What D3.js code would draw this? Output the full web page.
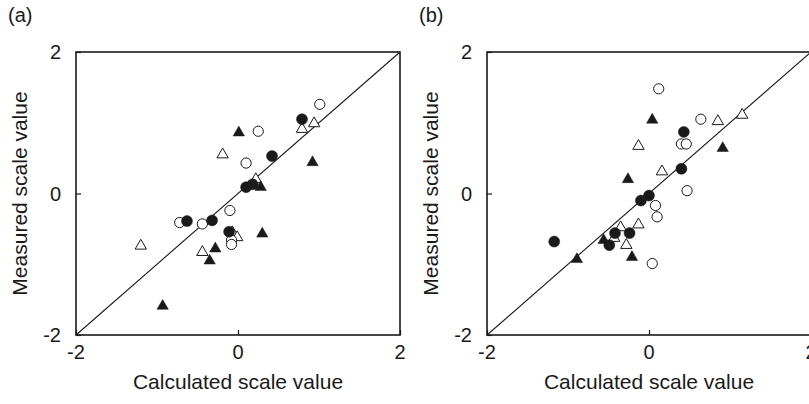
<!DOCTYPE html>
<html>
<head>
<meta charset="utf-8">
<script src="https://cdn.jsdelivr.net/npm/d3@7"></script>
<style>
body { margin: 0; background: #fff; }
svg { display: block; font-family: "Liberation Sans", Arial, sans-serif; }
</style>
</head>
<body>
<svg width="809" height="404"></svg>
<script>
// axis ticks and labels
var tickValues = [-2, 0, 2];
var panelNames = ["(a)", "(b)"];
var xTitle = "Calculated scale value";
var yTitle = "Measured scale value";

// panel (a): [calculated, measured]
var aFilledCircle = [[0.79, 1.05], [0.42, 0.53], [0.10, 0.09], [0.18, 0.13], [-0.63, -0.39], [-0.32, -0.38], [-0.11, -0.54]];
var aOpenCircle = [[1.01, 1.26], [0.25, 0.88], [0.10, 0.43], [-0.10, -0.24], [-0.72, -0.41], [-0.44, -0.43], [-0.08, -0.66], [-0.08, -0.72]];
var aFilledTri = [[0.01, 0.86], [0.92, 0.44], [0.28, 0.09], [0.30, -0.57], [-0.28, -0.78], [-0.35, -0.95], [-0.93, -1.59]];
var aOpenTri = [[0.94, 0.99], [0.79, 0.91], [-0.19, 0.55], [0.22, 0.20], [-0.07, -0.55], [-0.01, -0.62], [-0.44, -0.83], [-1.20, -0.74]];

// panel (b)
var bFilledCircle = [[0.43, 0.87], [0.40, 0.35], [0.00, -0.03], [-0.10, -0.10], [-0.24, -0.56], [-0.42, -0.56], [-0.49, -0.73], [-1.17, -0.68]];
var bOpenCircle = [[0.12, 1.48], [0.64, 1.05], [0.40, 0.70], [0.46, 0.70], [0.47, 0.04], [0.08, -0.17], [0.10, -0.33], [0.04, -0.99]];
var bFilledTri = [[0.04, 1.04], [0.91, 0.64], [-0.26, 0.20], [-0.21, -0.90], [-0.89, -0.93], [-0.56, -0.66]];
var bOpenTri = [[1.15, 1.11], [0.85, 1.02], [-0.13, 0.67], [0.16, 0.31], [-0.13, -0.44], [-0.35, -0.48], [-0.43, -0.63], [-0.28, -0.73]];

var svg = d3.select("svg");
var ink = "#1a1a1a";

var panels = [
    { left: 76, name: panelNames[0], series: [aOpenTri, aFilledTri, aOpenCircle, aFilledCircle] },
    { left: 487, name: panelNames[1], series: [bOpenTri, bFilledTri, bOpenCircle, bFilledCircle] }
];
var plotTop = 52, w = 324, h = 283;
// symbol, filled? in the same order as the series lists above
var styles = [
    { type: d3.symbolTriangle, size: 56, fill: "#fff" },
    { type: d3.symbolTriangle, size: 56, fill: ink },
    { type: d3.symbolCircle, size: 82, fill: "#fff" },
    { type: d3.symbolCircle, size: 95, fill: ink }
];

panels.forEach(function (p) {
    var x = d3.scaleLinear().domain([-2, 2]).range([p.left, p.left + w]);
    var y = d3.scaleLinear().domain([-2, 2]).range([plotTop + h, plotTop]);
    var g = svg.append("g");

    // 1:1 line
    g.append("line")
        .attr("x1", x(-2)).attr("y1", y(-2))
        .attr("x2", x(2)).attr("y2", y(2))
        .attr("stroke", ink)
        .attr("stroke-width", 1.1);

    styles.forEach(function (s, i) {
        g.append("g").selectAll("path")
            .data(p.series[i])
            .enter().append("path")
            .attr("transform", function (d) { return "translate(" + x(d[0]) + "," + y(d[1]) + ")"; })
            .attr("d", d3.symbol().type(s.type).size(s.size))
            .attr("fill", s.fill)
            .attr("stroke", ink)
            .attr("stroke-width", s.fill == ink ? 0.5 : 1);
    });

    // frame
    g.append("rect")
        .attr("x", x(-2)).attr("y", y(2))
        .attr("width", w).attr("height", h)
        .attr("fill", "none")
        .attr("stroke", ink)
        .attr("stroke-width", 1.6);

    // inward ticks
    g.append("g")
        .attr("transform", "translate(0," + y(-2) + ")")
        .call(d3.axisBottom(x).tickValues(tickValues).tickSize(-5).tickFormat(""))
        .call(function (a) { a.select(".domain").remove(); a.selectAll("line").attr("stroke", ink).attr("stroke-width", 1.2); });
    g.append("g")
        .attr("transform", "translate(" + x(-2) + ",0)")
        .call(d3.axisLeft(y).tickValues(tickValues).tickSize(-5).tickFormat(""))
        .call(function (a) { a.select(".domain").remove(); a.selectAll("line").attr("stroke", ink).attr("stroke-width", 1.2); });

    // tick labels
    g.selectAll(".xlab")
        .data(tickValues)
        .enter().append("text")
        .attr("x", function (d) { return x(d); })
        .attr("y", 359)
        .attr("text-anchor", "middle")
        .attr("font-size", 20)
        .attr("fill", ink)
        .text(function (d) { return d; });
    g.selectAll(".ylab")
        .data(tickValues)
        .enter().append("text")
        .attr("x", p.left - 15)
        .attr("y", function (d) { return y(d); })
        .attr("dy", "0.36em")
        .attr("text-anchor", "end")
        .attr("font-size", 20)
        .attr("fill", ink)
        .text(function (d) { return d; });

    // titles
    g.append("text")
        .attr("x", x(0))
        .attr("y", 389)
        .attr("text-anchor", "middle")
        .attr("font-size", 21)
        .attr("fill", ink)
        .text(xTitle);
    g.append("text")
        .attr("transform", "translate(" + (p.left - 49) + "," + (plotTop + h / 2) + ") rotate(-90)")
        .attr("text-anchor", "middle")
        .attr("font-size", 21)
        .attr("fill", ink)
        .text(yTitle);

    g.append("text")
        .attr("x", p.left - 68)
        .attr("y", 22)
        .attr("font-size", 20)
        .attr("fill", ink)
        .text(p.name);
});
</script>
</body>
</html>
